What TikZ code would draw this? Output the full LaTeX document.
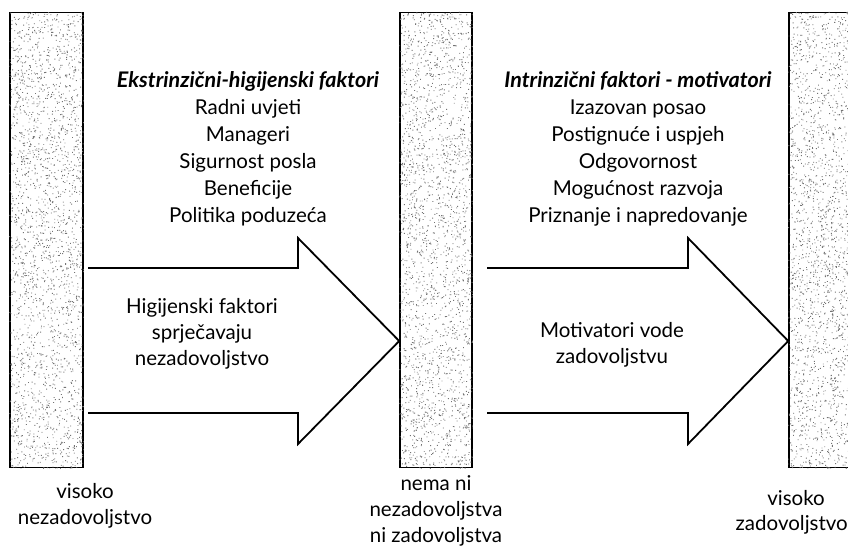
\documentclass[tikz,border=0pt]{standalone}
\usepackage{fontspec}
\setmainfont{Lato}
\usetikzlibrary{positioning,calc}

\tikzset{
  bar/.style={draw, line width=1.6pt, minimum width=73pt, minimum height=455pt, inner sep=0pt},
  blockarrow/.style={line width=1.8pt, line join=miter},
  lbl/.style={align=center, inner sep=0pt, font=\fontsize{20.5}{26}\selectfont},
}

\begin{document}
\begin{tikzpicture}[x=1pt,y=-1pt]
 \useasboundingbox (0,0) rectangle (848,550);
 % speckled bars
 \node[bar] (low) at (46.5,240) {};
 \node[bar, minimum width=72pt] (mid) at (436,240) {};
 \node[bar] (high) at (825.5,240) {};
 \pgfmathsetseed{17}
 \foreach \b in {low,mid,high}{
   \begin{scope}
     \clip (\b.north west) rectangle (\b.south east);
     \fill[black!55] \foreach \k in {1,...,2400}{
       (\b.north west) ++(rnd*74,rnd*458) rectangle ++(0.9,0.9)};
   \end{scope}
 }

 % block arrows
 \coordinate (tipA) at (mid.west |- 0,341);
 \coordinate (tipB) at (high.west |- 0,341);
 \draw[blockarrow] (88,268) -- (298,268) -- (298,238) -- (tipA)
   -- (298,444) -- (298,413) -- (88,413);
 \draw[blockarrow] (487,268) -- (688,268) -- (688,238) -- (tipB)
   -- (688,444) -- (688,413) -- (487,413);

 % factor lists
 \node[lbl] (extr) at (248,149) {{\fontsize{21.5}{27}\selectfont\bfseries\itshape Ekstrinzični-higijenski faktori}\\[0.5pt]
   Radni uvjeti\\[1pt]Manageri\\[1pt]Sigurnost posla\\[1pt]Beneficije\\[1pt]Politika poduzeća};
 \node[lbl] (intr) at (638,149) {{\fontsize{21.5}{27}\selectfont\bfseries\itshape Intrinzični faktori - motivatori}\\[0.5pt]
   Izazovan posao\\[1pt]Postignuće i uspjeh\\[1pt]Odgovornost\\[1pt]Mogućnost razvoja\\[1pt]Priznanje i napredovanje};

 % arrow texts
 \node[lbl] (hyg) at (202,334) {Higijenski faktori\\sprječavaju\\nezadovoljstvo};
 \node[lbl] (mot) at (612,345) {Motivatori vode\\zadovoljstvu};

 % bar captions
 \node[lbl] (lowtxt) at (85,506) {visoko\\nezadovoljstvo};
 \node[lbl] (midtxt) at (436,511) {nema ni\\nezadovoljstva\\ni zadovoljstva};
 \node[lbl] (hightop) at (796,498) {visoko};
 \node[lbl, anchor=east] (highbot) at (848,525) {zadovoljstvo};
\end{tikzpicture}
\end{document}
